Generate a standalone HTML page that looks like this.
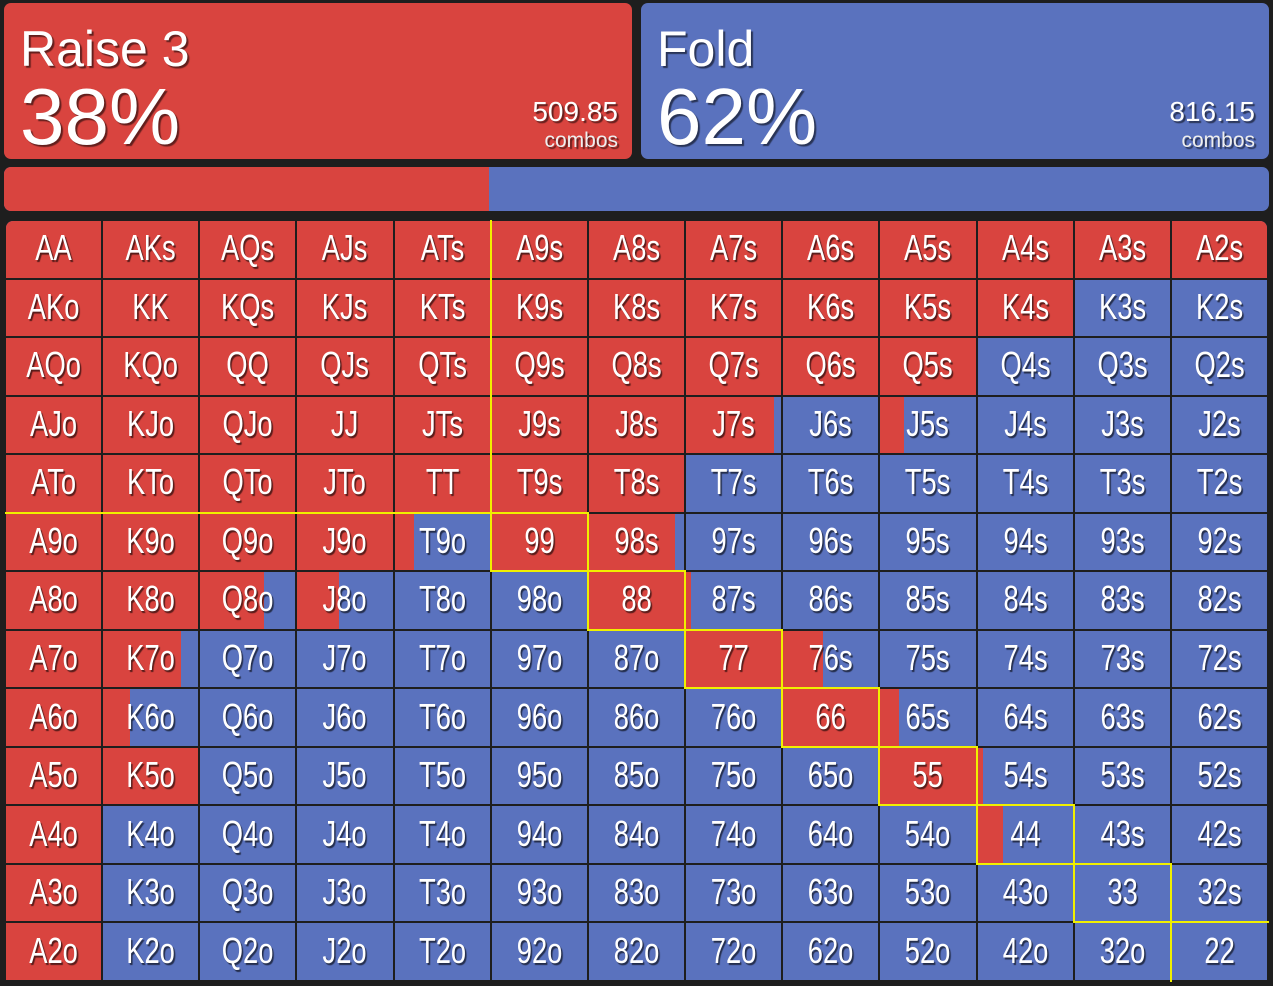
<!DOCTYPE html>
<html><head><meta charset="utf-8">
<style>
body{margin:0;width:1273px;height:986px;background:#1e1e1e;overflow:hidden;font-family:"Liberation Sans",sans-serif;position:relative}
.panel{position:absolute;top:3px;height:156px;border-radius:7px;color:#fff;text-shadow:2px 2px 1px rgba(0,0,0,.55)}
.title{position:absolute;left:16px;top:20px;font-size:50px;line-height:52px}
.pct{position:absolute;left:16px;top:72px;font-size:80px;line-height:84px}
.num{position:absolute;right:14px;top:93px;font-size:28px;text-align:right}
.cmb{position:absolute;right:14px;top:126px;font-size:21px;color:#eee}
#grid{position:absolute;left:0;top:0}
.cell{position:absolute;overflow:hidden;background:#5a72be}
.cell .r{position:absolute;left:0;top:0;bottom:0;background:#d9443f}
.cell span{position:absolute;left:0;right:0;top:50%;text-align:center;color:#fff;font-size:36px;line-height:36px;margin-top:-19px;transform:scaleX(.76);text-shadow:2px 2px 1px rgba(0,0,0,.6)}
.y{position:absolute;background:#f0f000}
</style></head><body>
<div class="panel" style="left:4px;width:628px;background:#d9443f">
 <div class="title">Raise 3</div>
 <div class="pct">38%</div>
 <div class="num">509.85</div>
 <div class="cmb">combos</div>
</div>
<div class="panel" style="left:641px;width:628px;background:#5a72be">
 <div class="title">Fold</div>
 <div class="pct">62%</div>
 <div class="num">816.15</div>
 <div class="cmb">combos</div>
</div>
<div style="position:absolute;left:4px;top:167px;width:1265px;height:44px;border-radius:7px;overflow:hidden;background:#5a72be">
 <div style="position:absolute;left:0;top:0;bottom:0;width:485px;background:#d9443f"></div>
</div>
<div id="grid"></div>
<script>
const ranks=["A","K","Q","J","T","9","8","7","6","5","4","3","2"];
const raiseFreq=[
[1,1,1,1,1,1,1,1,1,1,1,1,1],
[1,1,1,1,1,1,1,1,1,1,1,0,0],
[1,1,1,1,1,1,1,1,1,1,0,0,0],
[1,1,1,1,1,1,1,0.92,0,0.25,0,0,0],
[1,1,1,1,1,1,1,0,0,0,0,0,0],
[1,1,1,1,0.2,1,0.9,0,0,0,0,0,0],
[1,1,0.67,0.44,0,0,1,0.05,0,0,0,0,0],
[1,0.82,0,0,0,0,0,1,0.42,0,0,0,0],
[1,0.28,0,0,0,0,0,0,1,0.2,0,0,0],
[1,1,0,0,0,0,0,0,0,1,0.06,0,0],
[1,0,0,0,0,0,0,0,0,0,0.27,0,0],
[1,0,0,0,0,0,0,0,0,0,0,0,0],
[1,0,0,0,0,0,0,0,0,0,0,0,0]];
const g=document.getElementById('grid');
const X0=5,X1=1268,Y0=220,Y1=981,N=13;
const cw=(X1-X0)/N,ch=(Y1-Y0)/N;
const xs=i=>X0+i*cw, ys=j=>Y0+j*ch;
for(let r=0;r<N;r++)for(let c=0;c<N;c++){
 let lab=r==c?ranks[r]+ranks[c]:(c>r?ranks[r]+ranks[c]+"s":ranks[c]+ranks[r]+"o");
 const d=document.createElement('div');d.className='cell';
 
 
 d.style.left=(xs(c)+1)+'px';d.style.top=(ys(r)+1)+'px';
 d.style.width=(cw-2)+'px';d.style.height=(ch-2)+'px';
 if(r==0&&c==0)d.style.borderTopLeftRadius='7px';
 if(r==0&&c==N-1)d.style.borderTopRightRadius='7px';
 const rd=document.createElement('div');rd.className='r';rd.style.width=(raiseFreq[r][c]*100)+'%';
 
 
 d.appendChild(rd);
 const s=document.createElement('span');s.textContent=lab;
 
 
 d.appendChild(s);g.appendChild(d);
}
function yl(x,y,w,h){const e=document.createElement('div');e.className='y';
 
 
 e.style.left=x+'px';e.style.top=y+'px';e.style.width=w+'px';e.style.height=h+'px';g.appendChild(e);}
yl(xs(5)-1,Y0,2,ys(5)-Y0);
yl(X0,ys(5)-1,xs(5)-X0,2);
for(let k=5;k<N;k++){
 yl(xs(k)-1,ys(k)-1,cw+2,2);
 yl(xs(k)-1,ys(k)-1,2,ch+2);
 if(k<N-1){
  yl(xs(k+1)-1,ys(k)-1,2,ch+2);
  yl(xs(k)-1,ys(k+1)-1,cw+2,2);
 }
}
</script>
</body></html>
